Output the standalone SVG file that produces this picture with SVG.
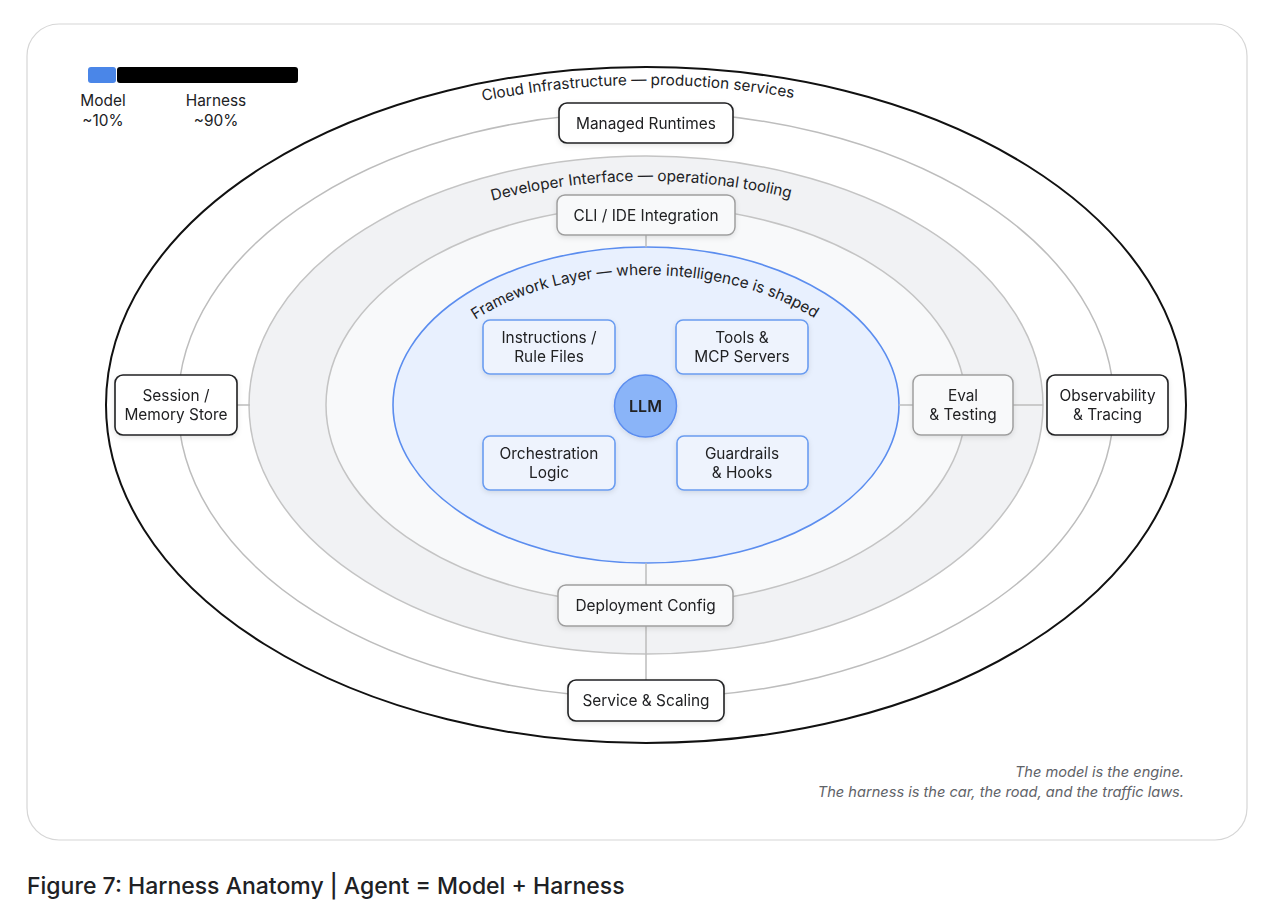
<svg xmlns="http://www.w3.org/2000/svg" width="1280" height="920" viewBox="0 0 1280 920">
<style>
text{font-family:"Inter","Liberation Sans",sans-serif;fill:#202124}
.lbl{font-size:15.4px;text-anchor:middle}
.arc{font-size:15.3px}
.n-dark{fill:#ffffff;stroke:#202124;stroke-width:1.6}
.n-gray{fill:#f8f9fa;stroke:#9e9e9e;stroke-width:1.5}
.n-blue{fill:#eef3fd;stroke:#6a9cf0;stroke-width:1.6}
.conn{stroke:#bdbdbd;stroke-width:1.5;fill:none}
.note{font-size:14.6px;font-style:italic;fill:#5f6368;text-anchor:end}
</style>
<defs>
<filter id="sh" x="-20%" y="-20%" width="140%" height="160%">
<feDropShadow dx="0" dy="2" stdDeviation="2.5" flood-color="#000" flood-opacity="0.10"/>
</filter>
<path id="p1" d="M 125 405 A 521 320 0 0 1 1167 405"/>
<path id="p2" d="M 271 405 A 375 224 0 0 1 1021 405"/>
<path id="p3" d="M 420 405 A 226 130 0 0 1 872 405"/>
</defs>
<rect x="0" y="0" width="1280" height="920" fill="#ffffff"/>
<rect x="27" y="24" width="1220" height="816" rx="32" fill="#ffffff" stroke="#d6d6d6" stroke-width="1.2"/>

<g id="rings">
<ellipse cx="646" cy="405" rx="540" ry="338" fill="#ffffff" stroke="#111111" stroke-width="2"/>
<ellipse cx="646" cy="405" rx="468" ry="293" fill="#ffffff" stroke="#bdbdbd" stroke-width="1.5"/>
<ellipse cx="646" cy="405" rx="397" ry="249" fill="#f1f2f4" stroke="#c4c4c4" stroke-width="1.5"/>
<ellipse cx="646" cy="405" rx="320" ry="199" fill="#f8f9fa" stroke="#c4c4c4" stroke-width="1.5"/>
<ellipse cx="646" cy="405" rx="253" ry="158" fill="#e8f0fe" stroke="#5b8def" stroke-width="1.6"/>
</g>

<g id="ring-labels">
<text class="arc"><textPath href="#p1" startOffset="49.4%" text-anchor="middle">Cloud Infrastructure — production services</textPath></text>
<text class="arc"><textPath href="#p2" startOffset="49.5%" text-anchor="middle">Developer Interface — operational tooling</textPath></text>
<text class="arc"><textPath href="#p3" startOffset="49.8%" text-anchor="middle">Framework Layer — where intelligence is shaped</textPath></text>
</g>

<g id="connectors">
<line class="conn" x1="646" y1="235" x2="646" y2="247"/>
<line class="conn" x1="646" y1="563" x2="646" y2="585"/>
<line class="conn" x1="646" y1="626" x2="646" y2="680"/>
<line class="conn" x1="237" y1="405" x2="250" y2="405"/>
<line class="conn" x1="899" y1="405" x2="913" y2="405"/>
<line class="conn" x1="1013" y1="405" x2="1043" y2="405"/>
</g>

<g id="legend">
<rect x="88" y="67" width="28" height="16" rx="3" fill="#4a86e8"/>
<rect x="117" y="67" width="181" height="16" rx="3" fill="#000000"/>
<text class="lbl" x="103" y="106">Model</text>
<text class="lbl" x="103" y="126">~10%</text>
<text class="lbl" x="216" y="106">Harness</text>
<text class="lbl" x="216" y="126">~90%</text>
</g>

<g id="managed-runtimes" filter="url(#sh)">
<rect class="n-dark" x="559" y="103" width="174" height="40" rx="8"/>
<text class="lbl" x="646" y="129">Managed Runtimes</text>
</g>
<g id="cli-ide" filter="url(#sh)">
<rect class="n-gray" x="557" y="195" width="178" height="40" rx="8"/>
<text class="lbl" x="646" y="221">CLI / IDE Integration</text>
</g>
<g id="instructions" filter="url(#sh)">
<rect class="n-blue" x="483" y="320" width="132" height="54" rx="7"/>
<text class="lbl" x="549" y="343">Instructions /</text>
<text class="lbl" x="549" y="362">Rule Files</text>
</g>
<g id="tools" filter="url(#sh)">
<rect class="n-blue" x="676" y="320" width="132" height="54" rx="7"/>
<text class="lbl" x="742" y="343">Tools &amp;</text>
<text class="lbl" x="742" y="362">MCP Servers</text>
</g>
<g id="llm" filter="url(#sh)">
<circle cx="645.5" cy="406" r="31" fill="#8ab4f8" stroke="#5b8def" stroke-width="1.5"/>
<text class="lbl" x="645.5" y="412" style="font-size:16px;font-weight:600">LLM</text>
</g>
<g id="orchestration" filter="url(#sh)">
<rect class="n-blue" x="483" y="436" width="132" height="54" rx="7"/>
<text class="lbl" x="549" y="459">Orchestration</text>
<text class="lbl" x="549" y="478">Logic</text>
</g>
<g id="guardrails" filter="url(#sh)">
<rect class="n-blue" x="677" y="436" width="131" height="54" rx="7"/>
<text class="lbl" x="742" y="459">Guardrails</text>
<text class="lbl" x="742" y="478">&amp; Hooks</text>
</g>
<g id="session-memory" filter="url(#sh)">
<rect class="n-dark" x="115" y="375" width="122" height="60" rx="8"/>
<text class="lbl" x="176" y="401">Session /</text>
<text class="lbl" x="176" y="420">Memory Store</text>
</g>
<g id="eval-testing" filter="url(#sh)">
<rect class="n-gray" x="913" y="375" width="100" height="60" rx="8"/>
<text class="lbl" x="963" y="401">Eval</text>
<text class="lbl" x="963" y="420">&amp; Testing</text>
</g>
<g id="observability" filter="url(#sh)">
<rect class="n-dark" x="1047" y="375" width="121" height="60" rx="8"/>
<text class="lbl" x="1107.5" y="401">Observability</text>
<text class="lbl" x="1107.5" y="420">&amp; Tracing</text>
</g>
<g id="deployment-config" filter="url(#sh)">
<rect class="n-gray" x="558" y="585" width="175" height="41" rx="8"/>
<text class="lbl" x="645.5" y="611">Deployment Config</text>
</g>
<g id="service-scaling" filter="url(#sh)">
<rect class="n-dark" x="568" y="680" width="156" height="41" rx="8"/>
<text class="lbl" x="646" y="706">Service &amp; Scaling</text>
</g>

<g id="note">
<text class="note" x="1184" y="777">The model is the engine.</text>
<text class="note" x="1184" y="797">The harness is the car, the road, and the traffic laws.</text>
</g>

<text x="27" y="894" style="font-size:23px;font-weight:500">Figure 7: Harness Anatomy | Agent = Model + Harness</text>
</svg>
